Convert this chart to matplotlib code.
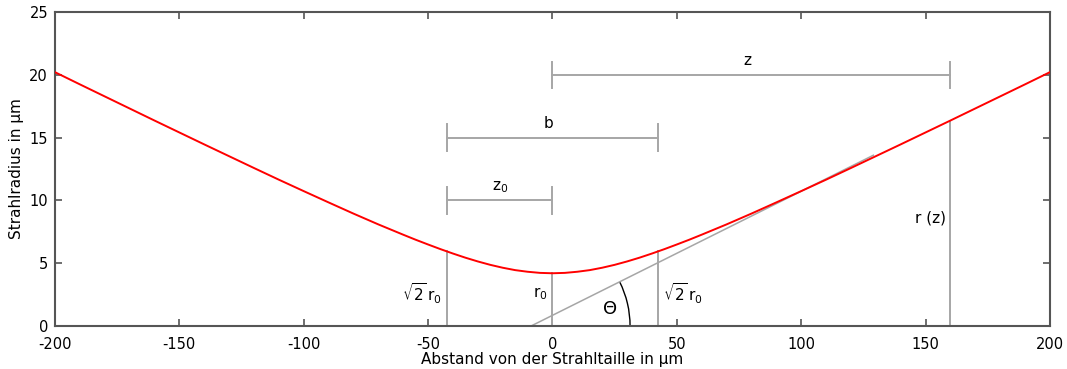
import matplotlib.pyplot as plt
import numpy as np
from matplotlib.patches import Arc

plt.rcParams['font.family'] = ['DejaVu Sans']
plt.rcParams['mathtext.fontset'] = 'dejavusans'
plt.rcParams['axes.unicode_minus'] = False

# Strahlradius r(z) in µm
z_um = [-200, -190, -180, -170, -160, -150, -140, -130, -120, -110, -100, -90, -80, -70,
        -60, -55, -50, -45, -40, -35, -30, -25, -20, -15, -10, -5, 0,
        5, 10, 15, 20, 25, 30, 35, 40, 45, 50, 55, 60,
        70, 80, 90, 100, 110, 120, 130, 140, 150, 160, 170, 180, 190, 200]
r_um = [20.21, 19.24, 18.28, 17.32, 16.36, 15.41, 14.46, 13.52, 12.58, 11.65, 10.74, 9.84, 8.95, 8.09,
        7.27, 6.87, 6.49, 6.12, 5.77, 5.44, 5.14, 4.87, 4.64, 4.45, 4.32, 4.23, 4.20,
        4.23, 4.32, 4.45, 4.64, 4.87, 5.14, 5.44, 5.77, 6.12, 6.49, 6.87, 7.27,
        8.09, 8.95, 9.84, 10.74, 11.65, 12.58, 13.52, 14.46, 15.41, 16.36, 17.32, 18.28, 19.24, 20.21]

r0 = 4.2          # Taillenradius
z0 = 42.5         # Rayleighlaenge
r_z0 = 5.94       # Radius bei +-z0
z_mark = 160      # Beispielposition z
r_mark = 16.36    # r(z) an dieser Stelle
theta_slope = 0.0988   # Steigung der Asymptote (r0/z0)
asym_start = -8.6      # Asymptote schneidet r = 0
asym_end = 129

grau = '#a6a6a6'

fig = plt.figure(figsize=(10.67, 3.69), dpi=100)
ax = fig.add_axes([0.0515, 0.1165, 0.9325, 0.851])

ax.plot(z_um, r_um, color='red', lw=1.4, zorder=5)

# senkrechte Hilfslinien
ax.plot([-z0, -z0], [0, r_z0], color=grau, lw=1.4)
ax.plot([z0, z0], [0, r_z0], color=grau, lw=1.4)
ax.plot([0, 0], [0, r0], color=grau, lw=1.4)
ax.plot([z_mark, z_mark], [0, r_mark], color=grau, lw=1.4)

# Asymptote
ax.plot([asym_start, asym_end],
        [0, theta_slope * (asym_end - asym_start)], color=grau, lw=1.1)

# Bemassungen z0, b, z
def bemassung(x1, x2, y, h=1.05):
    ax.plot([x1, x2], [y, y], color=grau, lw=1.4)
    ax.plot([x1, x1], [y - h, y + h], color=grau, lw=1.4)
    ax.plot([x2, x2], [y - h, y + h], color=grau, lw=1.4)

bemassung(-z0, 0, 10)
bemassung(-z0, z0, 15)
bemassung(0, z_mark, 20)

ax.text(-21, 10.45, r'$\mathrm{z}_0$', ha='center', va='bottom', fontsize=11)
ax.text(-1.5, 15.55, 'b', ha='center', va='bottom', fontsize=11)
ax.text(78.5, 20.55, 'z', ha='center', va='bottom', fontsize=11)

ax.text(-52.5, 2.6, r'$\sqrt{2}\,\mathrm{r}_0$', ha='center', va='center', fontsize=11)
ax.text(52.5, 2.6, r'$\sqrt{2}\,\mathrm{r}_0$', ha='center', va='center', fontsize=11)
ax.text(-5, 2.6, r'$\mathrm{r}_0$', ha='center', va='center', fontsize=11)
ax.text(23, 1.35, 'Θ', ha='center', va='center', fontsize=13)
ax.text(152, 8.6, 'r (z)', ha='center', va='center', fontsize=11)

# Winkelbogen
arc_w = 79.6
arc_h = 15.76
ax.add_patch(Arc((asym_start, 0), arc_w, arc_h, theta1=0,
                 theta2=np.degrees(np.arctan(theta_slope)), color='black', lw=1.0))

ax.set_xlim(-200, 200)
ax.set_ylim(0, 25)
ax.set_xticks([-200, -150, -100, -50, 0, 50, 100, 150, 200])
ax.set_yticks([0, 5, 10, 15, 20, 25])
ax.tick_params(direction='in', top=True, right=True, length=5, width=1.2,
               colors='#555555', labelcolor='black', labelsize=10.5)
ax.tick_params(axis='x', pad=8)
ax.tick_params(axis='y', pad=5)
for s in ax.spines.values():
    s.set_color('#555555')
    s.set_linewidth(1.5)

ax.set_xlabel('Abstand von der Strahltaille in µm', fontsize=11, labelpad=0)
ax.set_ylabel('Strahlradius in µm', fontsize=11, labelpad=4)

fig.savefig('out.png', dpi=100)
